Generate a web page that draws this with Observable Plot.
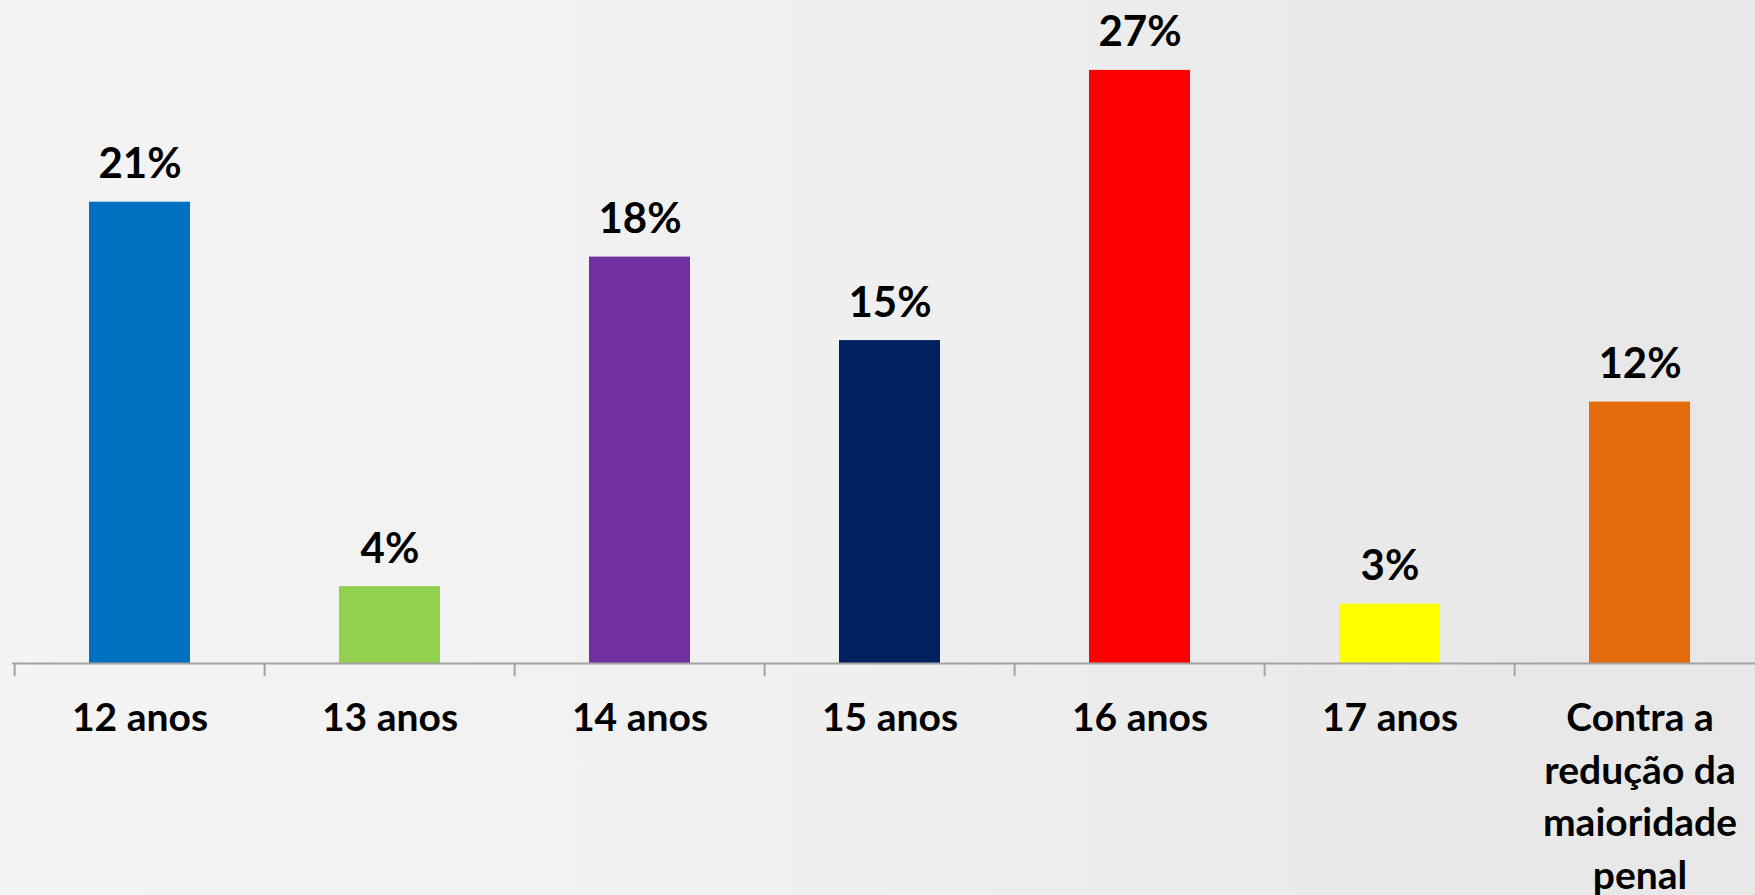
<!DOCTYPE html>
<html>
<head>
<meta charset="utf-8">
<script src="https://cdn.jsdelivr.net/npm/d3@7"></script>
<script src="https://cdn.jsdelivr.net/npm/@observablehq/plot@0.6"></script>
<style>
  html, body {
    margin: 0;
    padding: 0;
    width: 1755px;
    height: 895px;
    overflow: hidden;
    background: linear-gradient(90deg, #f4f4f4 0%, #f0f0f0 45%, #eaeaea 75%, #e7e7e7 100%);
  }
  #chart { width: 1767px; }
  #chart svg { display: block; max-width: none !important; }
</style>
</head>
<body>
<div id="chart"></div>
<script>
// ---- data ----
const categories = [
  "12 anos",
  "13 anos",
  "14 anos",
  "15 anos",
  "16 anos",
  "17 anos",
  "Contra a\nredução da\nmaioridade\npenal"
];
const values = [21.0, 3.5, 18.5, 14.7, 27.0, 2.7, 11.9];
const valueLabels = ["21%", "4%", "18%", "15%", "27%", "3%", "12%"];
const colors = ["#0070C0", "#92D050", "#7030A0", "#002060", "#FF0000", "#FFFF00", "#E46C0A"];

const data = categories.map((c, i) => ({category: c, value: values[i], label: valueLabels[i]}));

// ---- layout ----
const W = 1767, H = 895, mL = 12, mR = 0;
const step = (W - mL - mR) / categories.length;
const font = "Lato, 'Open Sans', sans-serif";

const chart = Plot.plot({
  width: W,
  height: H,
  marginLeft: mL,
  marginRight: mR,
  marginTop: 4,
  marginBottom: 232,
  x: {domain: categories, paddingInner: 0.597, paddingOuter: 0.2985},
  y: {domain: [0, 30], axis: null},
  color: {domain: categories, range: colors},
  style: {background: "transparent", overflow: "visible", maxWidth: "none", fontFamily: font, fontWeight: "bold", fontSize: "39px", color: "black"},
  marks: [
    Plot.barY(data, {x: "category", y: "value", fill: "category"}),
    Plot.ruleY([0], {stroke: "#a3a3a3", strokeWidth: 2}),
    Plot.ruleX(categories, {x: d => d, y1: 0, y2: -0.6, dx: -step / 2, stroke: "#a3a3a3", strokeWidth: 2}),
    Plot.text(data, {
      x: "category", y: "value", text: "label",
      lineAnchor: "bottom", dy: -24,
      fontSize: 42, fontWeight: "bold", fill: "black", fontFamily: font
    }),
    Plot.axisX({
      tickSize: 0, tickPadding: 30, lineHeight: 1.35,
      fontSize: 39, fontWeight: "bold", fill: "black", fontFamily: font,
      label: null
    })
  ]
});
document.getElementById("chart").appendChild(chart);
</script>
</body>
</html>
